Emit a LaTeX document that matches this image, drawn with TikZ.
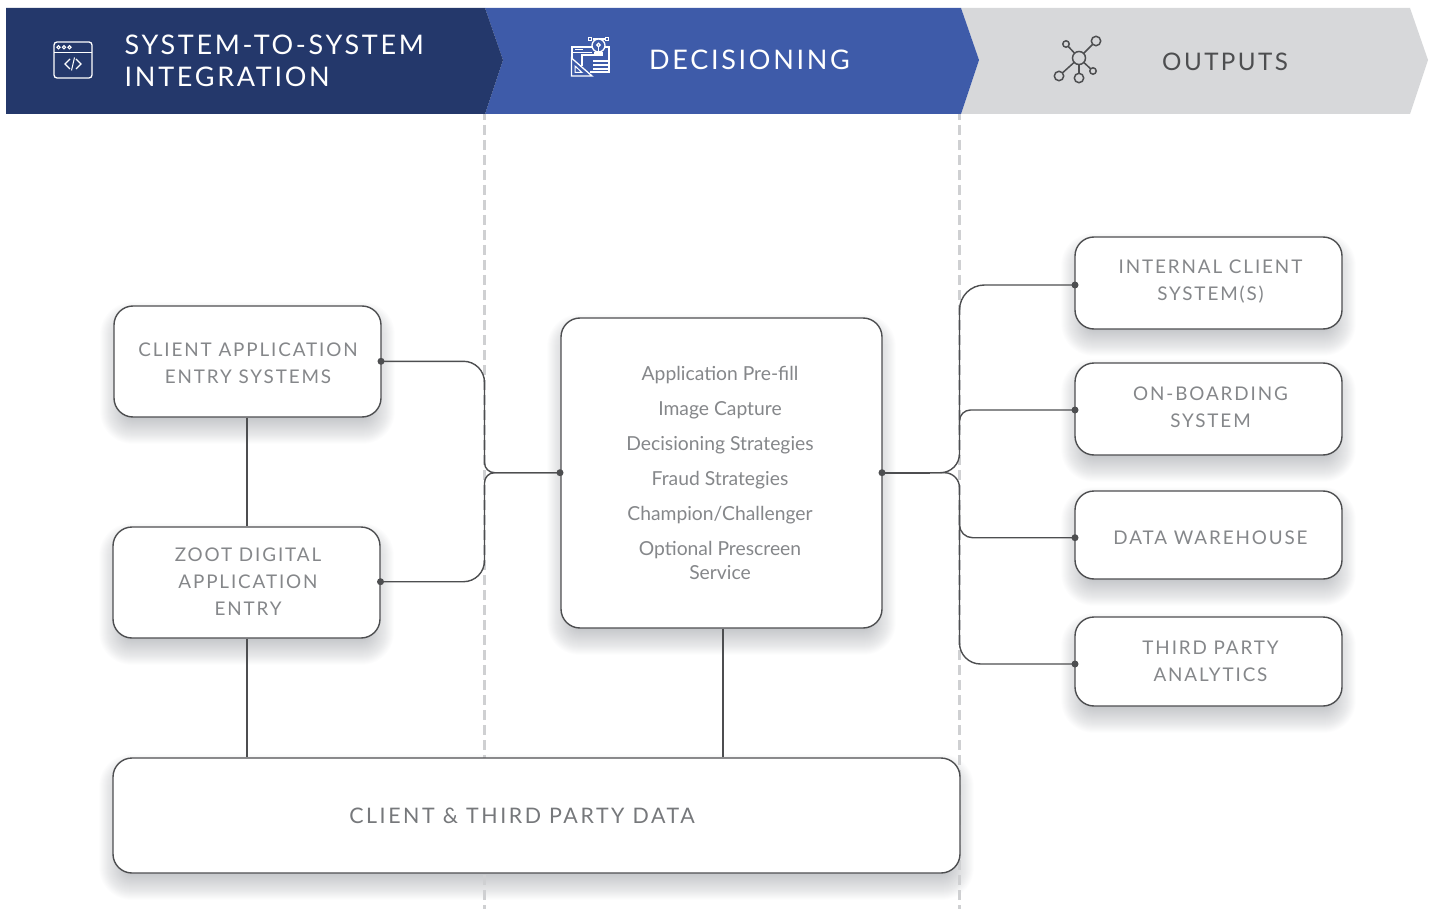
\documentclass[tikz,border=0pt]{standalone}
\usepackage{fontspec}
\setmainfont{Lato}
\newfontfamily\headf{Lato}[LetterSpace=10]
\newfontfamily\labf{Lato}[LetterSpace=10]
\newfontfamily\dataf{Lato}[LetterSpace=12]
\newfontfamily\bodyf{Lato}
\usetikzlibrary{calc}
\definecolor{navy}{HTML}{24386B}
\definecolor{midblue}{HTML}{3E5BA9}
\definecolor{palegrey}{HTML}{D7D8DA}
\definecolor{ink}{HTML}{4D4E50}
\definecolor{labgrey}{HTML}{85878A}
\definecolor{datagrey}{HTML}{76787B}
\definecolor{dashgrey}{HTML}{CFD0D2}
\definecolor{shadowc}{HTML}{5A5F68}
\pgfdeclarelayer{shadowlayer}
\pgfdeclarelayer{dashlayer}
\pgfsetlayers{shadowlayer,dashlayer,main}
\tikzset{
  x=1pt,y=-1pt,
  card/.style={draw=ink,fill=white,line width=1.4pt,rounded corners=19pt,inner sep=0pt},
  lab/.style={font=\labf\fontsize{18.85}{27}\selectfont,text=labgrey,align=center,inner sep=0pt},
  bodytext/.style={font=\bodyf\fontsize{19.3}{24}\selectfont,text=labgrey,align=center,inner sep=0pt},
  datatext/.style={font=\dataf\fontsize{21.4}{27}\selectfont,text=datagrey,align=center,inner sep=0pt},
  head/.style={font=\headf\fontsize{27}{32}\selectfont,text=white,align=left,inner sep=0pt},
  headout/.style={font=\headf\fontsize{24.2}{32}\selectfont,text=ink,align=left,inner sep=0pt},
  conn/.style={draw=ink,line width=1.4pt},
  trunk/.style={draw=ink,line width=1.8pt},
  guide/.style={draw=dashgrey,line width=3.2pt,dash pattern=on 10pt off 5pt,dash phase=4pt},
  pin/.style={circle,fill=ink,minimum size=7pt,inner sep=0pt},
  iconw/.style={draw=white,line width=1.3pt},
  icong/.style={draw=ink,line width=1.5pt,fill=palegrey},
}
\newcommand\softshadow[1]{%
  \begin{pgfonlayer}{shadowlayer}
  \foreach \e in {-14,-13,...,13}{%
    \pgfmathsetmacro\rr{max(19+\e,4)}
    \fill[shadowc,opacity=.014,rounded corners=\rr pt]
      ([xshift=-\e pt,yshift=\e pt-10pt]#1.north west) rectangle ([xshift=\e pt,yshift=-\e pt-13pt]#1.south east);
  }
  \end{pgfonlayer}}
\newcommand\cardat[6]{\node[card,minimum width=#4pt-#2pt,minimum height=#5pt-#3pt] (#1) at ({(#2+#4)/2},{(#3+#5)/2}) {};\softshadow{#1}}
\begin{document}
\begin{tikzpicture}
\useasboundingbox (0,0) rectangle (1432,909);
% header bands
\fill[palegrey] (961,8) -- (1410,8) -- (1428,60) -- (1410,114) -- (961,114) -- (979,60) -- cycle;
\fill[midblue] (485,8) -- (961,8) -- (979,60) -- (961,114) -- (485,114) -- (503,60) -- cycle;
\fill[navy] (6,8) -- (485,8) -- (503,60) -- (485,114) -- (6,114) -- cycle;
\node[head,anchor=west] (headA) at (124.5,61) {SYSTEM-TO-SYSTEM\\INTEGRATION};
\node[head,anchor=west] (headB) at (649,60) {DECISIONING};
\node[headout,anchor=west] (headC) at (1162,62) {OUTPUTS};
% icon: code window
\draw[iconw,rounded corners=3pt] (54,42) rectangle (92,78);
\draw[iconw] (54,52.5) -- (92,52.5);
\foreach \px in {58.5,64,69.5}{\draw[white,line width=1pt] (\px,47.3) circle (1.6);}
\draw[iconw] (70,59) -- (65,64) -- (70,69);
\draw[iconw] (76,59) -- (81,64) -- (76,69);
\draw[iconw,line width=1pt] (74.5,57.5) -- (71.5,70.5);
% icon: decisioning
\draw[iconw] (572,58) -- (572,47) -- (609,47) -- (609,72) -- (590,72);
\draw[iconw] (572,52.5) -- (592,52.5);
\draw[white,line width=1pt] (575,50) -- (583,50);
\draw[iconw] (582,66) -- (582,55) -- (597,55);
\draw[iconw,fill=midblue] (571.5,58) -- (571.5,76) -- (592,76) -- cycle;
\draw[iconw,line width=1pt] (575,66) -- (575,72.5) -- (582,72.5) -- cycle;
\draw[iconw] (590,39) -- (607,39);
\draw[iconw,fill=midblue] (598.5,45.5) circle (6.5);
\draw[white,line width=1.2pt] (598.5,45) circle (1.8);
\draw[iconw] (598.5,47) -- (598.5,52);
\fill[white] (594,52) rectangle (603,56);
\fill[midblue] (587.5,36.5) rectangle (592.5,41.5);
\fill[midblue] (604.5,36.5) rectangle (609.5,41.5);
\draw[white,line width=1pt] (588.5,37.5) rectangle (591.5,40.5);
\draw[white,line width=1pt] (605.5,37.5) rectangle (608.5,40.5);
\foreach \ly in {60,64,68}{\fill[white] (593,\ly) rectangle (609,\ly+2.2);}
% icon: network
\coordinate (hub) at (1079,58);
\foreach \cx/\cy/\cr in {1096/41/4.7,1066/44/3.2,1059/76/4.7,1079/78/4.7,1093/71/3.2}{
  \draw[icong,fill=none] (hub) -- (\cx,\cy);
  \draw[icong] (\cx,\cy) circle (\cr);
}
\draw[icong] (hub) circle (6.5);
% cards
\cardat{appbox}{114}{306}{381}{417}{}
\cardat{zootbox}{113}{527}{380}{638}{}
\cardat{corebox}{561}{318}{882}{628}{}
\cardat{databox}{113}{758}{960}{873}{}
\cardat{intbox}{1075}{237}{1342}{329}{}
\cardat{onbbox}{1075}{363}{1342}{455}{}
\cardat{whbox}{1075}{491}{1342}{579}{}
\cardat{thirdbox}{1075}{617}{1342}{706}{}
% labels
\node[lab] (appt) at (248,363) {CLIENT APPLICATION\\ENTRY SYSTEMS};
\node[lab] (zoott) at (248,582) {ZOOT DIGITAL\\APPLICATION\\ENTRY};
\node[bodytext] (coret) at (720,472.6) {Application Pre-fill\\[11pt]Image Capture\\[11pt]Decisioning Strategies\\[11pt]Fraud Strategies\\[11pt]Champion/Challenger\\[11pt]Optional Prescreen\\Service};
\node[datatext] (datat) at (522,816) {CLIENT \& THIRD PARTY DATA};
\node[lab] (intt) at (1210.5,282) {INTERNAL CLIENT\\SYSTEM(S)};
\node[lab] (onbt) at (1210.5,407.5) {ON-BOARDING\\SYSTEM};
\node[lab] (wht) at (1210.5,538) {DATA WAREHOUSE};
\node[lab] (thirdt) at (1210.5,661.5) {THIRD PARTY\\ANALYTICS};
% dashed column guides
\begin{pgfonlayer}{dashlayer}
\coordinate (guideAt) at (484.5,114); \coordinate (guideAb) at (484.5,909);
\coordinate (guideBt) at (959.5,114); \coordinate (guideBb) at (959.5,909);
\draw[guide] (guideAt) -- (guideAb);
\draw[guide] (guideBt) -- (guideBb);
\end{pgfonlayer}
% pins
\node[pin] (pA) at (381,361.3) {};
\node[pin] (pB) at (380.5,581.7) {};
\node[pin] (pCw) at (560,472.7) {};
\node[pin] (pCe) at (882,472.7) {};
\node[pin] (pE) at (1075,285) {};
\node[pin] (pF) at (1075,410) {};
\node[pin] (pG) at (1075,537.7) {};
\node[pin] (pH) at (1075,664) {};
% left bus
\coordinate (lbusU) at (484.5,462); \coordinate (lbusD) at (484.5,484);
\draw[conn,rounded corners=21pt] (pA.center) -| (lbusU);
\draw[conn,rounded corners=21pt] (pB.center) -| (lbusD);
\draw[conn,rounded corners=10pt] (lbusU) |- (pCw.center);
\draw[conn,rounded corners=10pt] (lbusD) |- (pCw.center);
% right bus
\coordinate (rbusU) at (959.5,440); \coordinate (rbusD) at (959.5,500);
\coordinate (rbusF) at (959.5,430); \coordinate (rbusG) at (959.5,505); \coordinate (rbusH) at (959.5,500);
\coordinate (rsplit) at (930,472.7);
\draw[trunk] (pCe.center) -- (rsplit);
\draw[conn,rounded corners=19pt] (rsplit) -| (rbusU);
\draw[conn,rounded corners=15pt] (rsplit) -| (rbusD);
\draw[conn,rounded corners=25pt] (rbusU) |- (pE.center);
\draw[conn,rounded corners=11pt] (rbusF) |- (pF.center);
\draw[conn,rounded corners=13pt] (rbusG) |- (pG.center);
\draw[conn,rounded corners=21pt] (rbusH) |- (pH.center);
% vertical links
\draw[trunk] (appbox.south -| 247,0) -- (zootbox.north -| 247,0);
\draw[trunk] (zootbox.south -| 247,0) -- (databox.north -| 247,0);
\draw[trunk] (corebox.south -| 723,0) -- (databox.north -| 723,0);
\end{tikzpicture}
\end{document}
